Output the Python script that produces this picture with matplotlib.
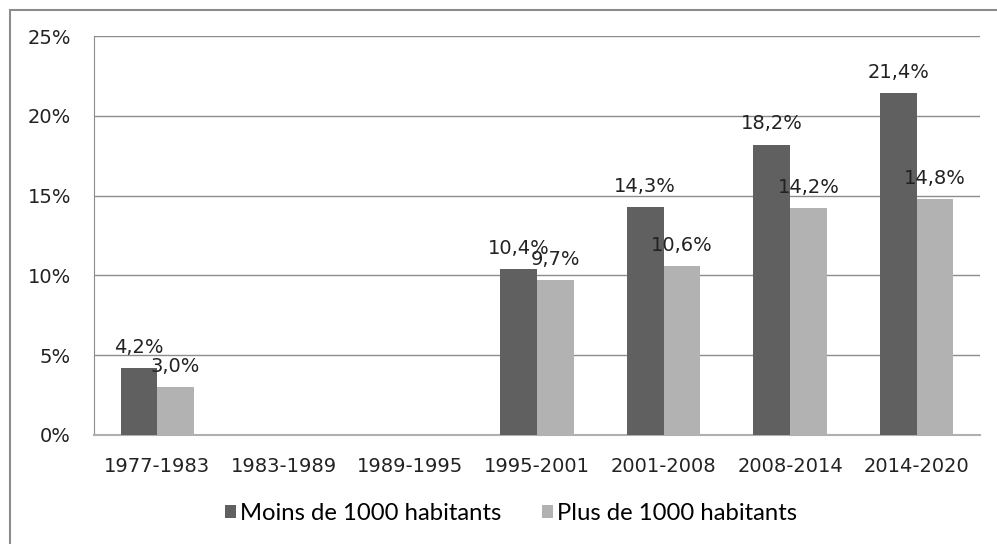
import numpy as np
import matplotlib.pyplot as plt
from matplotlib.patches import Rectangle

# --- Data ---
periods = ["1977-1983", "1983-1989", "1989-1995", "1995-2001",
           "2001-2008", "2008-2014", "2014-2020"]
moins_1000 = [4.2, np.nan, np.nan, 10.4, 14.3, 18.2, 21.4]
plus_1000 = [3.0, np.nan, np.nan, 9.7, 10.6, 14.2, 14.8]
series_names = ["Moins de 1000 habitants", "Plus de 1000 habitants"]
colors = ["#606060", "#b2b2b2"]

W, H = 997, 544
fig = plt.figure(figsize=(W / 100, H / 100), dpi=100)
ax = fig.add_axes([94 / W, 1 - 435 / H, (980 - 94) / W, (435 - 36) / H])

# outer frame (only left/top visible in the original)
fig.patches.append(Rectangle((10 / W, -0.1), 1.2, 1 - 10 / H + 0.1,
                             transform=fig.transFigure, fill=False,
                             edgecolor="#8c8c8c", linewidth=1.5))

x = np.arange(len(periods))
bw = 0.29
b1 = ax.bar(x - bw / 2, moins_1000, bw, color=colors[0], label=series_names[0], zorder=3)
b2 = ax.bar(x + bw / 2, plus_1000, bw, color=colors[1], label=series_names[1], zorder=3)

def fmt(v):
    return f"{v:.1f}%".replace(".", ",")

for bars, vals in [(b1, moins_1000), (b2, plus_1000)]:
    for rect, v in zip(bars, vals):
        if np.isnan(v):
            continue
        ax.annotate(fmt(v), (rect.get_x() + rect.get_width() / 2, v),
                    xytext=(0, 8), textcoords="offset points",
                    ha="center", va="bottom", fontsize=14, color="#222222", zorder=4)

ax.set_xlim(-0.5, len(periods) - 0.5)
ax.set_ylim(0, 25)
ax.set_yticks(np.arange(0, 26, 5))
ax.set_yticklabels([f"{t}%" for t in range(0, 26, 5)])
ax.set_xticks(x)
ax.set_xticklabels(periods)
ax.tick_params(axis="both", length=0, labelsize=14, colors="#222222")
ax.tick_params(axis="y", pad=16.5)
ax.tick_params(axis="x", pad=16)
ax.grid(axis="y", color="#8c8c8c", linewidth=1, zorder=0)
for s in ["top", "right"]:
    ax.spines[s].set_visible(False)
ax.spines["left"].set_color("#8c8c8c")
ax.spines["bottom"].set_color("#b0b0b0")
ax.spines["bottom"].set_linewidth(1.5)

fig.legend(loc="center", bbox_to_anchor=(511 / W, 1 - 514 / H), ncol=2,
           frameon=False, prop={"family": "Lato", "size": 17.2},
           handlelength=0.46, handleheight=0.46, handletextpad=0.17,
           columnspacing=1.7)

fig.savefig("out.png", dpi=100)
